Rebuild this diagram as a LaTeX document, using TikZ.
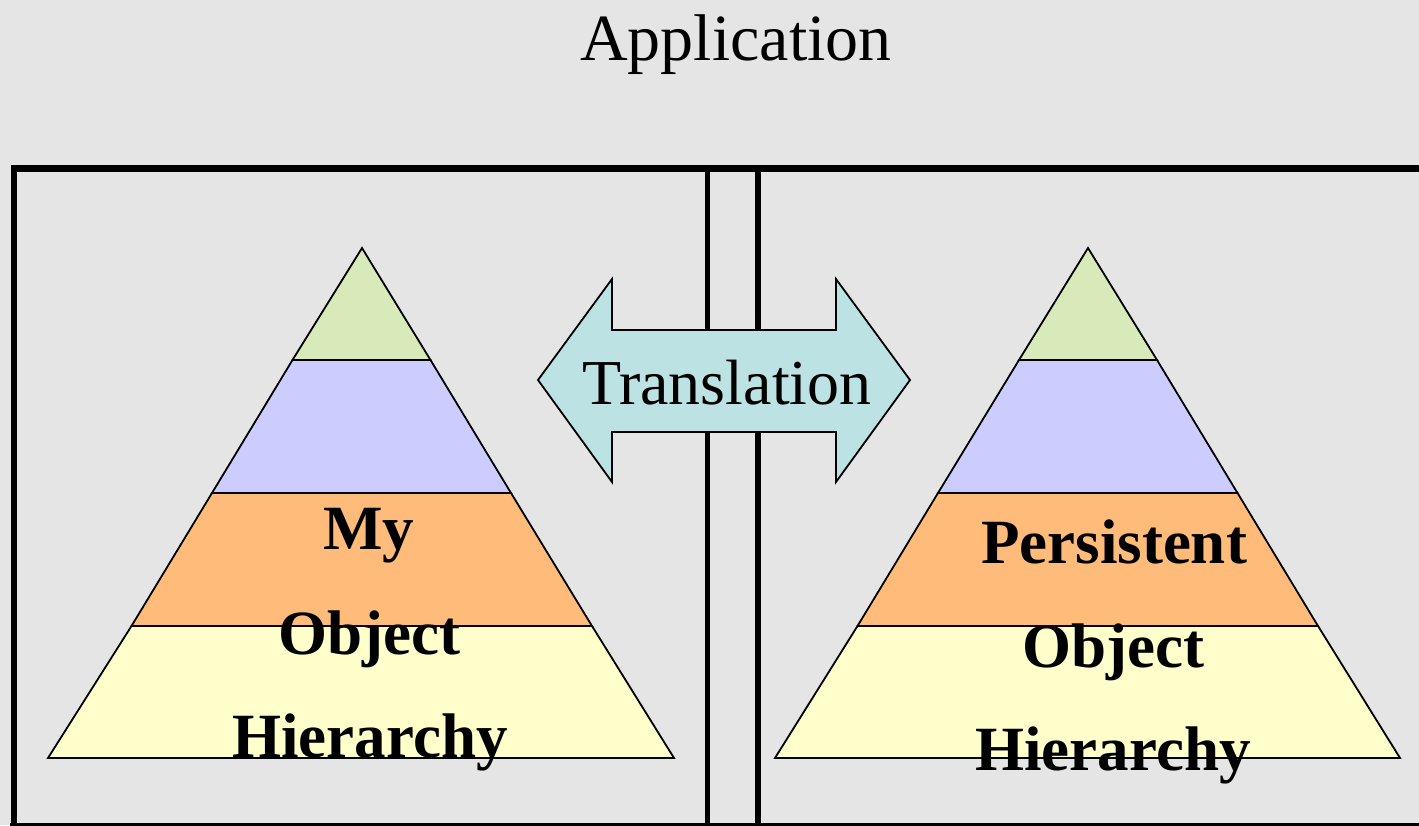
\documentclass[tikz,border=0pt]{standalone}
\usepackage{fontspec}
\setmainfont{Liberation Serif}
\definecolor{bgc}{RGB}{229,229,229}
\definecolor{lgreen}{RGB}{216,234,185}
\definecolor{lpurple}{RGB}{204,204,255}
\definecolor{lorange}{RGB}{255,187,122}
\definecolor{lyellow}{RGB}{255,255,204}
\definecolor{lcyan}{RGB}{188,226,228}
\tikzset{
  frameline/.style={line width=6.5pt, black, line join=miter},
  layer/.style={draw=black, line width=1.8pt, line join=miter},
  arrowshape/.style={draw=black, line width=1.8pt, fill=lcyan, line join=miter},
  titletext/.style={anchor=base, inner sep=0pt, font=\fontsize{66}{72}\selectfont},
  boldtext/.style={anchor=base, inner sep=0pt, font=\fontsize{63}{70}\selectfont\bfseries},
}
\begin{document}
\begin{tikzpicture}[x=1pt,y=-1pt]
\useasboundingbox (0,0) rectangle (1419,825);
\clip (0,0) rectangle (1419,825);
\fill[bgc] (0,0) rectangle (1419,825);
% frame
\draw[frameline] (14,826) -- (14,168.5) -- (1440,168.5);
\draw[frameline] (10,826) -- (1440,826);
\draw[line width=5.5pt] (707.5,168) -- (707.5,830);
\draw[line width=5.5pt] (758,168) -- (758,830);
% left pyramid
\coordinate (LA) at (362,248);
\coordinate (LB) at (48,758);
\coordinate (LC) at (674,758);
\path[layer, fill=lyellow] (131.5,626) -- (592,626) -- (LC) -- (LB) -- cycle;
\path[layer, fill=lorange] (212,493) -- (511,493) -- (592,626) -- (131.5,626) -- cycle;
\path[layer, fill=lpurple] (292.5,360) -- (430.5,360) -- (511,493) -- (212,493) -- cycle;
\path[layer, fill=lgreen] (LA) -- (430.5,360) -- (292.5,360) -- cycle;
% right pyramid
\coordinate (RA) at (1088,248);
\coordinate (RB) at (775,758);
\coordinate (RC) at (1400,758);
\path[layer, fill=lyellow] (857.5,626) -- (1318,626) -- (RC) -- (RB) -- cycle;
\path[layer, fill=lorange] (938,493) -- (1237.5,493) -- (1318,626) -- (857.5,626) -- cycle;
\path[layer, fill=lpurple] (1019,360) -- (1157,360) -- (1237.5,493) -- (938,493) -- cycle;
\path[layer, fill=lgreen] (RA) -- (1157,360) -- (1019,360) -- cycle;
% double arrow
\path[arrowshape] (538,380) -- (612,279) -- (612,330) -- (836,330) -- (836,279)
  -- (910,380) -- (836,482) -- (836,432) -- (612,432) -- (612,482) -- cycle;
% texts
\node[titletext] (title) at (736,60) {Application};
\node[titletext, font=\fontsize{64}{70}\selectfont] (trans) at (727,404) {Translation};
\node[boldtext] (lmy) at (369,549) {My};
\node[boldtext] (lobj) at (369,654) {Object};
\node[boldtext] (lhier) at (370,757) {Hierarchy};
\node[boldtext] (rpers) at (1114,563) {Persistent};
\node[boldtext] (robj) at (1113,667) {Object};
\node[boldtext] (rhier) at (1113,770) {Hierarchy};
\end{tikzpicture}
\end{document}
